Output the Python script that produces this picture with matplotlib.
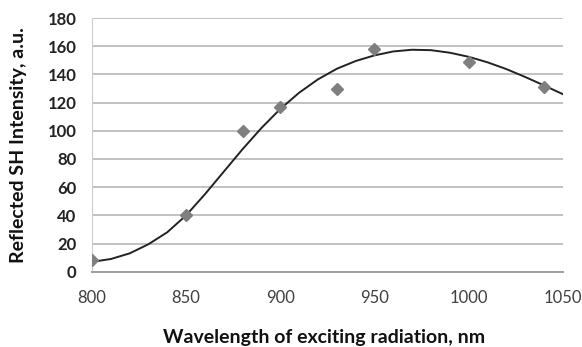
import matplotlib.pyplot as plt

wavelength = [800, 850, 880, 900, 930, 950, 1000, 1040]
intensity = [8, 40, 100, 117, 130, 158, 149, 131]

# trend curve, every 10 nm
trend_x = [800, 810, 820, 830, 840, 850, 860, 870, 880, 890, 900, 910, 920,
           930, 940, 950, 960, 970, 980, 990, 1000, 1010, 1020, 1030, 1040, 1050]
trend_y = [7, 9, 13, 19.5, 28, 40, 55, 71, 87, 102, 115.5, 127, 136.5,
           144, 149.5, 153.5, 156.3, 157.5, 157.2, 155.4, 152.5, 148.6, 143.8,
           138.2, 132.2, 126]

xticks = [800, 850, 900, 950, 1000, 1050]
yticks = [0, 20, 40, 60, 80, 100, 120, 140, 160, 180]

plt.rcParams['font.family'] = ['Lato', 'DejaVu Sans']

fig = plt.figure(figsize=(5.82, 3.47), dpi=100)
ax = fig.add_axes([0.158, 0.217, 0.809, 0.731])

ax.plot(trend_x, trend_y, color='#222222', lw=1.4, zorder=3,
        solid_joinstyle='round')
ax.plot(wavelength, intensity, linestyle='none', marker='D', ms=6,
        color='#7f7f7f', zorder=4)

ax.set_xlim(800, 1050)
ax.set_ylim(0, 180)
ax.set_xticks(xticks)
ax.set_yticks(yticks)
ax.grid(axis='y', color='#bdbdbd', lw=1.3)
ax.set_axisbelow(True)
for side in ['top', 'right']:
    ax.spines[side].set_visible(False)
ax.spines['left'].set_color('#cccccc')
ax.spines['bottom'].set_color('#a0a0a0')
ax.spines['bottom'].set_linewidth(1.4)
ax.tick_params(length=0)
ax.tick_params(axis='x', pad=13, labelsize=12, labelcolor='#404040')
ax.tick_params(axis='y', pad=11, labelsize=12, labelcolor='#222222')
for lbl in ax.get_yticklabels():
    lbl.set_fontweight('bold')

ax.set_xlabel("Wavelength of exciting radiation, nm", fontsize=14,
              fontweight='bold', color='#111111')
ax.xaxis.set_label_coords(0.494, -0.226)
ax.set_ylabel("Reflected SH Intensity, a.u.", fontsize=14,
              fontweight='bold', color='#111111')
ax.yaxis.label.set_va('center')
ax.yaxis.set_label_coords(-0.155, 0.5)

plt.savefig("out.png", dpi=100)
